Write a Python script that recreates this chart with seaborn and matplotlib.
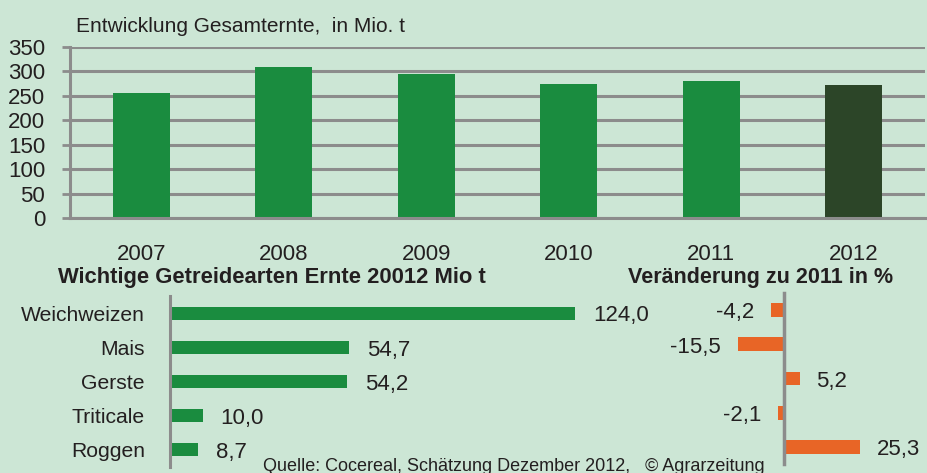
import matplotlib
matplotlib.use("Agg")
import matplotlib.pyplot as plt
import seaborn as sns
import numpy as np

# ---- data ----
years = ["2007", "2008", "2009", "2010", "2011", "2012"]
total_harvest = [255, 310, 295, 275, 280, 272]
crops = ["Weichweizen", "Mais", "Gerste", "Triticale", "Roggen"]
harvest_2012 = [124.0, 54.7, 54.2, 10.0, 8.7]
change_pct = [-4.2, -15.5, 5.2, -2.1, 25.3]

title_top = "Entwicklung Gesamternte,  in Mio. t"
title_left = "Wichtige Getreidearten Ernte 20012 Mio t"
title_right = "Veränderung zu 2011 in %"
source = "Quelle: Cocereal, Schätzung Dezember 2012,   © Agrarzeitung"

# ---- style ----
BG = "#cce6d5"
GREEN = "#1a8c3f"
DARK = "#2c4528"
ORANGE = "#e86526"
GRAY = "#8c8c8c"
TXT = "#231f20"

sns.set_theme(style="white")
plt.rcParams["font.family"] = ["Liberation Sans", "DejaVu Sans"]
plt.rcParams["text.color"] = TXT
plt.rcParams["axes.labelcolor"] = TXT
plt.rcParams["xtick.color"] = TXT
plt.rcParams["ytick.color"] = TXT

W, H = 927, 473
fig = plt.figure(figsize=(W / 100, H / 100), dpi=100)
fig.patch.set_facecolor(BG)

def box(x0, y0, x1, y1):
    return [x0 / W, 1 - y1 / H, (x1 - x0) / W, (y1 - y0) / H]

# ---- top chart ----
ax = fig.add_axes(box(70, 47, 925, 218))
ax.set_facecolor(BG)
sns.barplot(x=years, y=total_harvest, hue=years,
            palette=[GREEN] * 5 + [DARK], legend=False,
            width=0.4, saturation=1, linewidth=0, ax=ax)
ax.set_ylim(0, 350)
ax.set_xlim(-0.5, 5.5)
ax.set_yticks(np.arange(0, 351, 50))
ax.set_axisbelow(True)
ax.grid(axis="y", color=GRAY, lw=2.2)
ax.grid(axis="x", visible=False)
for s in ["top", "right"]:
    ax.spines[s].set_visible(False)
for s in ["left", "bottom"]:
    ax.spines[s].set_color(GRAY)
    ax.spines[s].set_linewidth(2.2)
ax.set_xticks(np.arange(-0.5, 6, 1), minor=True)
ax.tick_params(axis="x", which="minor", length=6, width=2, color=GRAY, direction="out")
ax.tick_params(axis="x", which="major", length=0, pad=19, labelsize=16)
ax.tick_params(axis="y", length=6, width=2, color=GRAY, pad=12, labelsize=16, left=True)
ax.set_xlabel("")
ax.set_ylabel("")
fig.text(76 / W, 1 - 26 / H, title_top, fontsize=15, va="center", ha="left")

# ---- bottom-left chart ----
ax2 = fig.add_axes(box(170, 296, 690, 467))
ax2.set_facecolor("none")
sns.barplot(x=harvest_2012, y=crops, orient="h", color=GREEN,
            width=0.38, saturation=1, linewidth=0, ax=ax2)
ax2.set_ylim(4.5, -0.5)
ax2.set_xlim(0, 520 / 3.266)
for s in ["top", "right", "bottom"]:
    ax2.spines[s].set_visible(False)
ax2.spines["left"].set_color(GRAY)
ax2.spines["left"].set_linewidth(2.2)
ax2.set_xticks([])
ax2.set_yticks(np.arange(-0.5, 5, 1), minor=True)
ax2.tick_params(axis="y", which="minor", length=7, width=2, color=GRAY, direction="out")
ax2.tick_params(axis="y", which="major", length=0, pad=18, labelsize=15.2)
ax2.set_xlabel("")
ax2.set_ylabel("")
for i, v in enumerate(harvest_2012):
    ax2.annotate(f"{v:.1f}".replace(".", ","), (v, i), xytext=(13, -2),
                 textcoords="offset points", ha="left", va="center", fontsize=16)
fig.text(58 / W, 1 - 277 / H, title_left, fontsize=15.8, fontweight="bold",
         va="center", ha="left")

# ---- bottom-right chart ----
ax3 = fig.add_axes(box(700, 293, 927, 464))
ax3.set_facecolor("none")
sns.barplot(x=change_pct, y=crops, orient="h", color=ORANGE,
            width=0.4, saturation=1, linewidth=0, ax=ax3)
ax3.set_ylim(4.5, -0.5)
ax3.set_xlim(-84 / 3.0, 143 / 3.0)
for s in ["top", "right", "bottom"]:
    ax3.spines[s].set_visible(False)
ax3.spines["left"].set_position(("data", 0))
ax3.spines["left"].set_color(GRAY)
ax3.spines["left"].set_linewidth(2.5)
ax3.set_xticks([])
ax3.set_yticks([])
ax3.set_xlabel("")
ax3.set_ylabel("")
for i, v in enumerate(change_pct):
    off = 12 if v > 0 else -12
    ax3.annotate(f"{v:.1f}".replace(".", ","), (v, i), xytext=(off, -2),
                 textcoords="offset points", ha="left" if v > 0 else "right",
                 va="center", fontsize=16)
fig.text(628 / W, 1 - 277 / H, title_right, fontsize=15.5, fontweight="bold",
         va="center", ha="left")

fig.text(263 / W, 1 - 466 / H, source, fontsize=13, va="center", ha="left")

fig.savefig("out.png", dpi=100, facecolor=BG)
